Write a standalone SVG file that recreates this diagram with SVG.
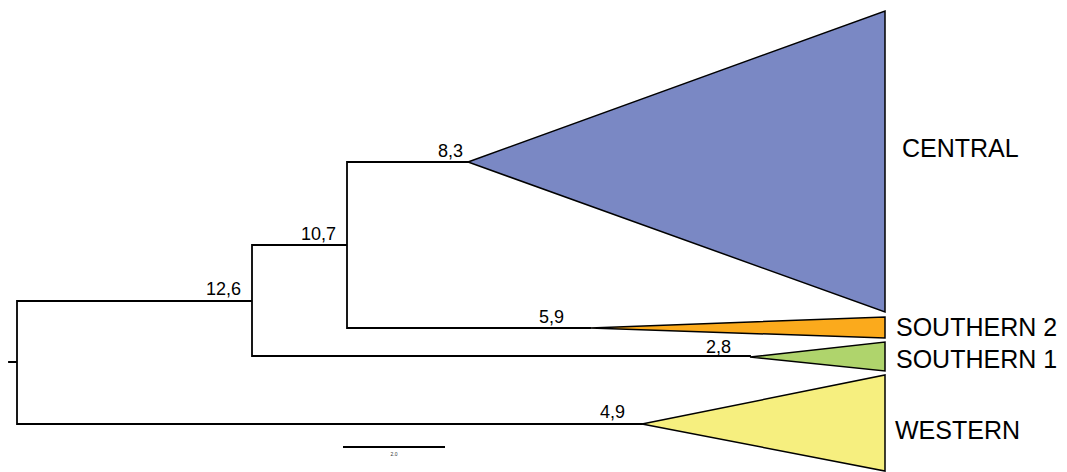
<svg xmlns="http://www.w3.org/2000/svg" width="1067" height="472" viewBox="0 0 1067 472">
<style>
.br{fill:none;stroke:#000;stroke-width:1.8;stroke-linecap:square}
.tri{stroke:#000;stroke-width:1.5;stroke-linejoin:miter}
.num{font-family:"Liberation Sans",Arial,sans-serif;font-size:18px;fill:#000;text-anchor:end}
.lab{font-family:"Liberation Sans",Arial,sans-serif;font-size:25px;fill:#000}
</style>
<rect width="1067" height="472" fill="#fff"/>
<g id="connectors">
<path class="br" d="M9,362H17M17,301V424M17,301H252M17,424H642M252,245V356M252,245H347M252,356H750M347,162V328M347,162H468M347,328H590"/>
</g>
<g id="central">
<polygon class="tri" fill="#7a88c4" points="468,162 885,11 885,312"/>
<text class="lab" x="902" y="157">CENTRAL</text>
</g>
<g id="southern2">
<polygon class="tri" fill="#fbaa1c" points="590,328 885,317 885,338"/>
<text class="lab" x="896" y="336">SOUTHERN 2</text>
</g>
<g id="southern1">
<polygon class="tri" fill="#afd46c" points="750,357 885,342 885,371"/>
<text class="lab" x="896" y="368">SOUTHERN 1</text>
</g>
<g id="western">
<polygon class="tri" fill="#f6ef7f" points="642,424 885,375 885,471"/>
<text class="lab" x="895" y="439">WESTERN</text>
</g>
<g id="node-labels">
<text class="num" x="241" y="295">12,6</text>
<text class="num" x="336" y="240">10,7</text>
<text class="num" x="463" y="157">8,3</text>
<text class="num" x="564" y="323">5,9</text>
<text class="num" x="731" y="353">2,8</text>
<text class="num" x="625" y="418">4,9</text>
</g>
<g id="scale-bar">
<line x1="343" y1="447" x2="445" y2="447" stroke="#000" stroke-width="2"/>
<text x="394" y="456" font-family="Liberation Sans,Arial,sans-serif" font-size="5" text-anchor="middle" fill="#333">2.0</text>
</g>
</svg>
